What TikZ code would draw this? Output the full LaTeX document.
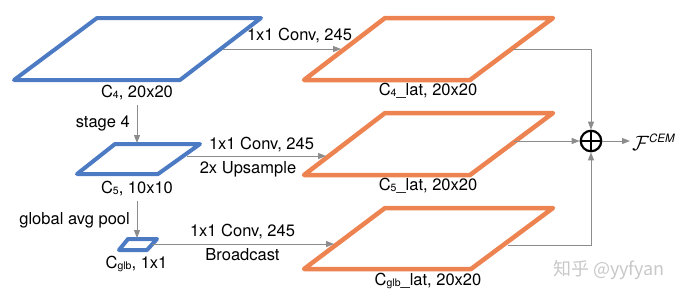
\documentclass[tikz,border=0pt]{standalone}
\usepackage{fontspec}
\setmainfont{TeX Gyre Heros}
\newfontfamily\cjkfont{Noto Sans CJK SC}
\usetikzlibrary{arrows.meta}
\definecolor{cblue}{HTML}{4C7BC4}
\definecolor{corange}{HTML}{EC8350}
\definecolor{cgray}{HTML}{8C8C8C}
\definecolor{wmgray}{HTML}{C8C8C8}
\newcommand{\mysub}[1]{{\fontsize{10.5}{12}\selectfont\raisebox{-1pt}{#1}}}
\begin{document}
\begin{tikzpicture}[x=1pt,y=-1pt,
  lbl/.style={font=\fontsize{16.5}{19}\selectfont, inner sep=0pt},
  bluefm/.style={draw=cblue, line width=4pt, line join=round},
  orangefm/.style={draw=corange, line width=4.5pt, line join=round},
  arr/.style={draw=cgray, line width=1pt, -{Triangle[length=8pt,width=6pt]}},
  ]
\useasboundingbox (0,0) rectangle (690,301);
% feature maps
\draw[bluefm] (14,80) -- (180,80) -- (261,18) -- (97,18) -- cycle;
\draw[bluefm] (77,174) -- (158,174) -- (200,144) -- (115,144) -- cycle;
\draw[bluefm] (119,250) -- (147,250) -- (157,239) -- (128,239) -- cycle;
\draw[orangefm] (304,80) -- (470,80) -- (553,18) -- (385,18) -- cycle;
\draw[orangefm] (304,175) -- (470,175) -- (553,113) -- (385,113) -- cycle;
\draw[orangefm] (304,269) -- (471,269) -- (553,208) -- (385,208) -- cycle;
% connector end points
\coordinate (c4r) at (223,49);
\coordinate (c4latl) at (341,49);
\coordinate (c5t) at (137,143);
\coordinate (c5r) at (187,156);
\coordinate (c5latl) at (326,156);
\coordinate (glbt) at (137,238);
\coordinate (glbr) at (152,244);
\coordinate (glblatl) at (334,244);
\coordinate (c4latr) at (513,49);
\coordinate (c5latr) at (514,141);
\coordinate (glblatr) at (508,245);
% labels
\node[lbl] (c4lab) at (137,93) {C\mysub{4}, 20x20};
\node[lbl] (c5lab) at (137,189) {C\mysub{5}, 10x10};
\node[lbl] (glblab) at (136.5,264) {C\mysub{glb}, 1x1};
\node[lbl] (c4latlab) at (428,91) {C\mysub{4}\_lat, 20x20};
\node[lbl] (c5latlab) at (428,186) {C\mysub{5}\_lat, 20x20};
\node[lbl] (glblatlab) at (428,281) {C\mysub{glb}\_lat, 20x20};
\node[lbl] (conv1) at (299.5,36) {1x1 Conv, 245};
\node[lbl] (conv2) at (261.5,145) {1x1 Conv, 245};
\node[lbl] (up) at (248,169) {2x Upsample};
\node[lbl] (conv3) at (242.5,232) {1x1 Conv, 245};
\node[lbl] (bcast) at (242.5,254.5) {Broadcast};
\node[lbl, anchor=east] (stage) at (130,123) {stage 4};
\node[lbl, anchor=east] (gap) at (130,220) {global avg pool};
% sum
\node[circle, draw, line width=2.2pt, minimum size=20.5pt, inner sep=0pt] (sum) at (591,141) {};
\draw[line width=2pt] (sum.north) -- (sum.south) (sum.west) -- (sum.east);
\node[inner sep=0pt, anchor=base west, font=\fontsize{22}{24}\selectfont] (fcem) at (632,150) {$\mathcal{F}^{\textit{\fontsize{11.5}{12}\selectfont CEM}}$};
\coordinate (fcemw) at (630,141);
% connectors
\draw[arr] (c4r) -- (c4latl);
\draw[arr] (c4lab.south) ++(0,4) -- (c5t);
\draw[arr] (c5r) -- (c5latl);
\draw[arr] (c5lab.south) ++(0,4) -- (glbt);
\draw[arr] (glbr) -- (glblatl);
\draw[arr] (c4latr) -| (sum.north);
\draw[arr] (c5latr) -- (sum.west);
\draw[arr] (glblatr) -| (sum.south);
\draw[arr] (sum.east) -- (fcemw);
% watermark
\node[inner sep=0pt, text=wmgray, font=\cjkfont\fontsize{18}{20}\selectfont] (wm) at (609,270) {知乎 @yyfyan};
\end{tikzpicture}
\end{document}
